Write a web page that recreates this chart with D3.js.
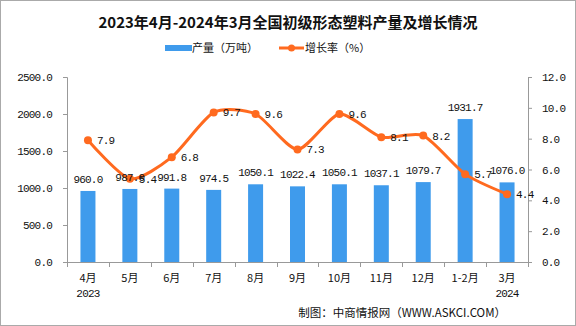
<!DOCTYPE html>
<html><head><meta charset="utf-8">
<script src="https://cdn.jsdelivr.net/npm/d3@7"></script>
<style>body{margin:0;background:#fff}svg{display:block}</style>
</head><body>
<svg id="c" width="576" height="326"></svg>
<script>
const categories = ["4月","5月","6月","7月","8月","9月","10月","11月","12月","1-2月","3月"];
const yearLabels = ["2023","","","","","","","","","","2024"];
const production = [960.0, 987.0, 991.8, 974.5, 1050.1, 1022.4, 1050.1, 1037.1, 1079.7, 1931.7, 1076.0];
const growth = [7.9, 5.4, 6.8, 9.7, 9.6, 7.3, 9.6, 8.1, 8.2, 5.7, 4.4];
const leftTicks = [0, 500, 1000, 1500, 2000, 2500];
const rightTicks = [0, 2, 4, 6, 8, 10, 12];

const svg = d3.select("#c");
const W = 576, H = 326;
const m = {l: 67, r: 48, t: 77, b: 64};
const x0 = m.l, x1 = W - m.r, y0 = H - m.b, y1 = m.t;
const mono = "'Liberation Mono','DejaVu Sans Mono',monospace";
const cjk = "'Noto Sans CJK SC','Noto Sans',sans-serif";
const barColor = "#3f9bec", lineColor = "#ff6a1f", axisColor = "#999";
const ls = "-0.8px";

svg.append("rect").attr("x",0.5).attr("y",0.5).attr("width",W-1).attr("height",H-1)
  .attr("fill","#fff").attr("stroke","#aaa");

const x = d3.scaleBand().domain(categories).range([x0, x1]);
const yL = d3.scaleLinear().domain([0, 2500]).range([y0, y1]);
const yR = d3.scaleLinear().domain([0, 12]).range([y0, y1]);

// title
svg.append("text").attr("x", 288).attr("y", 28).attr("text-anchor","middle")
  .attr("font-family", cjk).attr("font-weight","bold").attr("font-size",15).attr("fill","#111")
  .text("2023年4月-2024年3月全国初级形态塑料产量及增长情况");

// legend
svg.append("rect").attr("x",165).attr("y",45).attr("width",27).attr("height",6).attr("fill",barColor);
svg.append("text").attr("x",192).attr("y",52).attr("font-family",cjk).attr("font-size",11).attr("fill","#111").text("产量（万吨）");
svg.append("line").attr("x1",279).attr("x2",304).attr("y1",48).attr("y2",48).attr("stroke",lineColor).attr("stroke-width",3);
svg.append("circle").attr("cx",291.5).attr("cy",48).attr("r",3.5).attr("fill",lineColor);
svg.append("text").attr("x",305).attr("y",52).attr("font-family",cjk).attr("font-size",11).attr("fill","#111").text("增长率（%）");

// axes
const axL = d3.axisLeft(yL).tickValues(leftTicks).tickFormat(d3.format(".1f")).tickSize(4).tickPadding(11);
const gL = svg.append("g").attr("transform",`translate(${x0},0)`).call(axL);
const axR = d3.axisRight(yR).tickValues(rightTicks).tickFormat(d3.format(".1f")).tickSize(4).tickPadding(10);
const gR = svg.append("g").attr("transform",`translate(${x1},0)`).call(axR);
[gL, gR].forEach(g => {
  g.select(".domain").attr("stroke",axisColor);
  g.selectAll(".tick line").attr("stroke",axisColor);
  g.selectAll(".tick text").attr("font-family",mono).attr("font-size",11).attr("letter-spacing",ls).attr("fill","#111");
});

// x axis
const gX = svg.append("g").attr("transform",`translate(0,${y0})`);
gX.append("line").attr("x1",x0).attr("x2",x1).attr("y1",0.5).attr("y2",0.5).attr("stroke",axisColor);
const bounds = categories.map(c => x(c)).concat([x1]);
gX.selectAll("line.tk").data(bounds).join("line").attr("class","tk")
  .attr("x1",d=>Math.round(d)+0.5).attr("x2",d=>Math.round(d)+0.5).attr("y1",0).attr("y2",5).attr("stroke",axisColor);
gX.selectAll("text.cat").data(categories).join("text").attr("class","cat")
  .attr("x",d=>x(d)+x.bandwidth()/2).attr("y",20).attr("text-anchor","middle")
  .attr("font-family",cjk).attr("font-size",11).attr("fill","#111").text(d=>d);
gX.selectAll("text.yr").data(yearLabels.map((t,i)=>({t, c: categories[i]})).filter(d=>d.t)).join("text").attr("class","yr")
  .attr("x",d=>x(d.c)+x.bandwidth()/2).attr("y",35).attr("text-anchor","middle")
  .attr("font-family",mono).attr("font-size",11).attr("letter-spacing",ls).attr("fill","#111").text(d=>d.t);

// bars
const bw = 15;
svg.selectAll("rect.bar").data(production).join("rect").attr("class","bar")
  .attr("x",(d,i)=>x(categories[i])+x.bandwidth()/2-bw/2).attr("width",bw)
  .attr("y",d=>yL(d)).attr("height",d=>y0-yL(d)).attr("fill",barColor);

// line
const pts = growth.map((d,i)=>[x(categories[i])+x.bandwidth()/2, yR(d)]);
svg.append("path").attr("d", d3.line().curve(d3.curveCardinal.tension(0.3))(pts))
  .attr("fill","none").attr("stroke",lineColor).attr("stroke-width",3);
svg.selectAll("circle.pt").data(pts).join("circle").attr("class","pt")
  .attr("cx",d=>d[0]).attr("cy",d=>d[1]).attr("r",4).attr("fill",lineColor);

// bar labels
svg.selectAll("text.bl").data(production).join("text").attr("class","bl")
  .attr("x",(d,i)=>x(categories[i])+x.bandwidth()/2).attr("y",d=>yL(d)-8)
  .attr("text-anchor","middle").attr("font-family",mono).attr("font-size",11).attr("letter-spacing",ls).attr("fill","#111")
  .text(d=>d3.format(".1f")(d));

// line labels
svg.selectAll("text.ll").data(growth).join("text").attr("class","ll")
  .attr("x",(d,i)=>pts[i][0]+9).attr("y",(d,i)=>pts[i][1]+4)
  .attr("font-family",mono).attr("font-size",11).attr("letter-spacing",ls).attr("fill","#111")
  .text(d=>d3.format(".1f")(d));

// source
svg.append("text").attr("x",506).attr("y",317).attr("text-anchor","end")
  .attr("font-family",cjk).attr("font-size",11.5).attr("fill","#111")
  .text("制图：中商情报网（WWW.ASKCI.COM）");
</script>
</body></html>
